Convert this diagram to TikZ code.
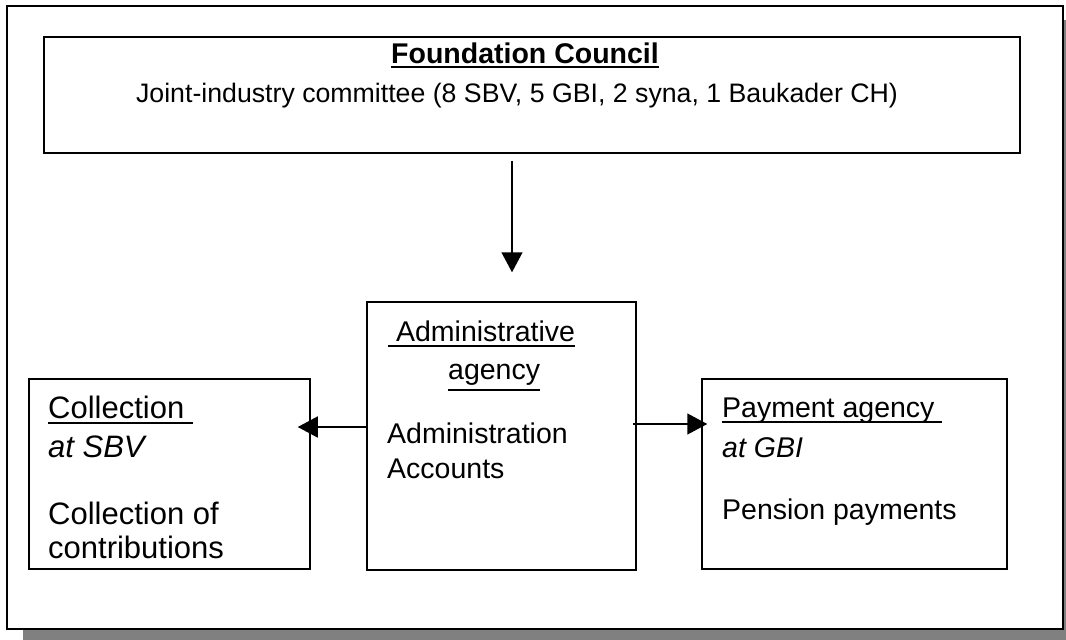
\documentclass[tikz,border=0pt]{standalone}
\usepackage{fontspec}
\setmainfont{Liberation Sans}
\usetikzlibrary{arrows.meta}
\definecolor{shadowgrey}{RGB}{128,128,128}
% underline with given depth
\newcommand{\ulbox}[2][6pt]{\setbox0\hbox{#2}\rlap{\rule[-#1]{\wd0}{2pt}}\box0}

\begin{document}
\begin{tikzpicture}[x=1pt,y=-1pt,
  box/.style={draw,line width=1.5pt,inner sep=0pt},
  txt/.style={anchor=base west,inner sep=0pt,font=\fontsize{28.5}{34}\selectfont},
  bigtxt/.style={txt,font=\fontsize{31}{36}\selectfont},
  arr/.style={-{Triangle[length=20pt,width=21pt]},line width=1.5pt}]
\useasboundingbox (0,0) rectangle (1066,640);

% Frame with shadow
\fill[shadowgrey] (23,20) rectangle (1066,640);
\draw[fill=white,line width=1.5pt] (7,6) rectangle (1063,629);

% Foundation council
\node[box,minimum width=976pt,minimum height=116pt] (council) at (532,95) {};
\node[txt,anchor=base,font=\fontsize{28.5}{34}\selectfont\bfseries] (ctitle) at (525,63) {\ulbox[5pt]{Foundation Council}};
\node[txt,anchor=base,font=\fontsize{26.7}{32}\selectfont] (cline) at (517,102) {Joint-industry committee (8 SBV, 5 GBI, 2 syna, 1 Baukader CH)};

% Administrative agency
\node[box,minimum width=269pt,minimum height=268pt] (admin) at (501.5,436) {};
\node[txt] (atitle) at (388,341) {\ulbox{\ Administrative}};
\node[txt] (atitle2) at (448,379) {\ulbox[12pt]{agency}};
\node[txt] (aline1) at (387,443) {Administration};
\node[txt] (aline2) at (387,478) {Accounts};

% Collection
\node[box,minimum width=281pt,minimum height=190pt] (coll) at (169.5,474) {};
\node[bigtxt] (ltitle) at (48,418) {\ulbox{Collection\ }};
\node[bigtxt] (lat) at (48,457) {\itshape at SBV};
\node[bigtxt] (lline1) at (48,524) {Collection of};
\node[bigtxt] (lline2) at (48,558) {contributions};

% Payment agency
\node[box,minimum width=305pt,minimum height=190pt] (pay) at (854.5,474) {};
\node[txt] (rtitle) at (722,417) {\ulbox{Payment agency\ }};
\node[txt] (rat) at (722,457) {\itshape at GBI};
\node[txt] (rline) at (722,519) {Pension payments};

% Arrows
\draw[arr,shorten <=7pt,shorten >=29pt] ([xshift=-20pt]council.south) -- ([xshift=-20pt]council.south |- admin.north);
\draw[arr,shorten >=-13pt] ([yshift=9pt]admin.west) -- ([yshift=9pt]admin.west -| coll.east);
\draw[arr,shorten <=-4pt,shorten >=-6pt] ([yshift=12pt]admin.east) -- ([yshift=12pt]admin.east -| pay.west);
\end{tikzpicture}
\end{document}
